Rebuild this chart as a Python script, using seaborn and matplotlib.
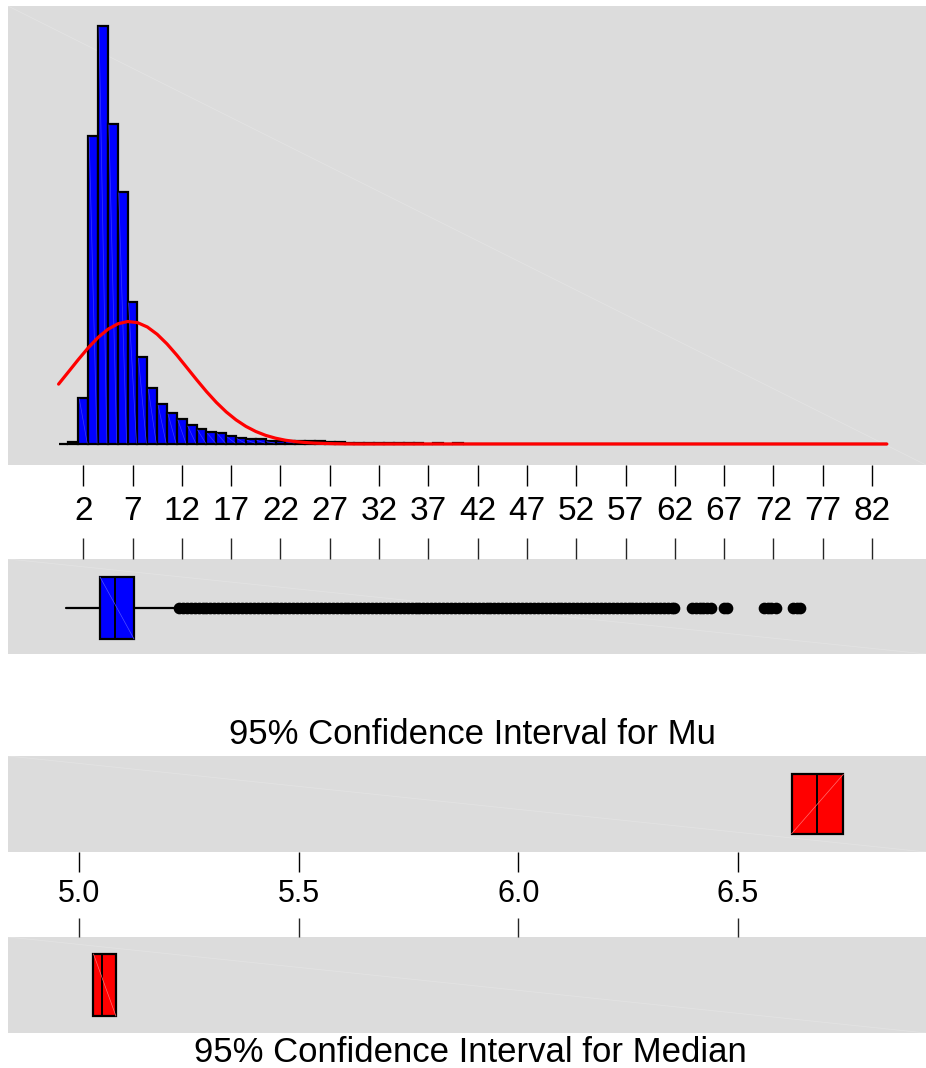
import numpy as np
import pandas as pd
import matplotlib
matplotlib.use("Agg")
import matplotlib.pyplot as plt
import seaborn as sns

# ---- data ----
# histogram: unit bins centred on 0..83
bin_centers = list(range(84))
counts = [5, 45, 950, 6350, 8620, 6600, 5200, 2930, 1790, 1150,
          820, 640, 515, 390, 310, 240, 235, 165, 130, 97,
          95, 68, 56, 68, 56, 55, 54, 34, 31, 30,
          28, 30, 27, 29, 26, 28, 25, 0, 30, 0,
          30] + [0] * 43

# fitted normal curve (heights read at these x)
curve_x = [-0.5, 0.5, 1.5, 2.5, 3.5, 4.5, 5.5, 6.5, 7.5, 8.5, 9.5, 10.5,
           11.5, 12.5, 13.5, 14.5, 15.5, 16.5, 17.5, 18.5, 19.5, 20.5,
           21.5, 22.5, 23.5, 24.5, 25.5, 26.5, 27.5, 28.5, 30.0, 83.5]
curve_y = [1235, 1487, 1741, 1982, 2196, 2365, 2478, 2526, 2503, 2413,
           2262, 2063, 1830, 1578, 1325, 1081, 858, 662, 497, 363, 258,
           178, 120, 78, 50, 31, 18, 11, 6, 3, 1, 0]

# boxplot summary
box_q1, box_med, box_q3 = 3.7, 5.2, 7.15
box_lo, box_hi = 0.25, 11.3
fliers = [11.7, 12.1, 12.5, 12.9, 13.3, 13.7, 14.1, 14.5, 14.9, 15.3,
          15.7, 16.1, 16.5, 16.9, 17.3, 17.7, 18.1, 18.5, 18.9, 19.3,
          19.7, 20.1, 20.5, 20.9, 21.3, 21.7, 22.1, 22.5, 22.9, 23.3,
          23.7, 24.1, 24.5, 24.9, 25.3, 25.7, 26.1, 26.5, 26.9, 27.3,
          27.7, 28.1, 28.5, 28.9, 29.3, 29.7, 30.1, 30.5, 30.9, 31.3,
          31.7, 32.1, 32.5, 32.9, 33.3, 33.7, 34.1, 34.5, 34.9, 35.3,
          35.7, 36.1, 36.5, 36.9, 37.3, 37.7, 38.1, 38.5, 38.9, 39.3,
          39.7, 40.1, 40.5, 40.9, 41.3, 41.7, 42.1, 42.5, 42.9, 43.3,
          43.7, 44.1, 44.5, 44.9, 45.3, 45.7, 46.1, 46.5, 46.9, 47.3,
          47.7, 48.1, 48.5, 48.9, 49.3, 49.7, 50.1, 50.5, 50.9, 51.3,
          51.7, 52.1, 52.5, 52.9, 53.3, 53.7, 54.1, 54.5, 54.9, 55.3,
          55.7, 56.1, 56.5, 56.9, 57.3, 57.7, 58.1, 58.5, 58.9, 59.3,
          59.7, 60.1, 60.5, 60.9, 61.3, 61.7, 61.9,
          63.7, 64.1, 64.5, 64.9, 65.3, 65.7, 67.0, 67.3,
          71.0, 71.4, 71.8, 72.3, 74.0, 74.4, 74.7]

# confidence intervals (low, centre, high)
mu_ci = [6.622, 6.680, 6.740]
median_ci = [5.033, 5.053, 5.084]

hist_ticks = [2, 7, 12, 17, 22, 27, 32, 37, 42, 47, 52, 57, 62, 67, 72, 77, 82]
ci_ticks = [5.0, 5.5, 6.0, 6.5]
ci_labels = ["5.0", "5.5", "6.0", "6.5"]

# ---- figure ----
sns.set_theme(style="white")
plt.rcParams['font.family'] = ['Liberation Sans', 'DejaVu Sans']
plt.rcParams['text.color'] = 'black'

W, H = 926, 1068
fig = plt.figure(figsize=(W / 100, H / 100), dpi=100)
fig.patch.set_facecolor("white")

PANEL = "#dcdcdc"


def px_axes(x0, y0, x1, y1):
    ax = fig.add_axes([x0 / W, 1 - y1 / H, (x1 - x0) / W, (y1 - y0) / H])
    ax.set_facecolor(PANEL)
    for s in ax.spines.values():
        s.set_visible(False)
    # faint diagonal artefact across the panel
    ax.plot([0, 1], [1, 0], transform=ax.transAxes, color="#e3e3e3", lw=0.6, zorder=0.5)
    return ax


ax_hist = px_axes(8, 6, 926, 465)
ax_box = px_axes(8, 559, 926, 654)
ax_mu = px_axes(8, 756, 926, 852)
ax_med = px_axes(8, 937, 926, 1033)

# histogram
hist_df = pd.DataFrame({"value": bin_centers, "count": counts})
bin_edges = [c - 0.5 for c in bin_centers] + [bin_centers[-1] + 0.5]
sns.histplot(data=hist_df, x="value", weights="count", bins=bin_edges,
             color="#0000ff", edgecolor="black", linewidth=1.6, alpha=1,
             ax=ax_hist, zorder=2)
for p in list(ax_hist.patches):
    x0, y0 = p.get_x(), p.get_y()
    w, h = p.get_width(), p.get_height()
    if h > 60:
        ax_hist.plot([x0 + 0.1, x0 + w - 0.1], [y0 + h - 20, y0 + 20],
                     color="#3a3aff", lw=0.5, zorder=2.5)
sns.lineplot(x=curve_x, y=curve_y, color="#ff0000", linewidth=2.3, ax=ax_hist, zorder=3)
ax_hist.set_xlim(-5.63, 87.47)
ax_hist.set_ylim(-433, 9032)
ax_hist.set_xticks(hist_ticks)
ax_hist.set_xticklabels([str(t) for t in hist_ticks])
ax_hist.set_yticks([])
ax_hist.set_xlabel("")
ax_hist.set_ylabel("")
ax_hist.tick_params(axis="x", direction="out", length=15, width=1, pad=7,
                    labelsize=24, colors="black", bottom=True)


def draw_box(ax, q1, med, q3, lo, hi, fl, color, width, pos, diag_up, light):
    ax.bxp([dict(q1=q1, med=med, q3=q3, whislo=lo, whishi=hi, fliers=fl)],
           positions=[pos], widths=width, orientation="horizontal",
           patch_artist=True, showcaps=False, manage_ticks=False,
           boxprops=dict(facecolor=color, edgecolor="black", linewidth=1.6),
           medianprops=dict(color="black", linewidth=1.4),
           whiskerprops=dict(color="black", linewidth=1.6),
           flierprops=dict(marker="o", markerfacecolor="black",
                           markeredgecolor="black", markersize=7.4))
    top, bot = pos + width / 2, pos - width / 2
    ys = [bot, top] if diag_up else [top, bot]
    ax.plot([q1, q3], ys, color=light, lw=0.5, zorder=5)


# boxplot under the histogram
draw_box(ax_box, box_q1, box_med, box_q3, box_lo, box_hi, fliers,
         "#0000ff", 0.653, -0.016, False, "#5050ff")
ax_box.set_xlim(-5.63, 87.47)
ax_box.set_ylim(-0.5, 0.5)
ax_box.set_yticks([])
ax_box.xaxis.tick_top()
ax_box.set_xticks(hist_ticks)
ax_box.tick_params(axis="x", direction="out", length=15, width=1,
                   top=True, bottom=False, labeltop=False, labelbottom=False)

# confidence interval panels
draw_box(ax_mu, mu_ci[0], mu_ci[1], mu_ci[2], mu_ci[0], mu_ci[2], [],
         "#ff0000", 0.62, 0.0, True, "#ff7070")
draw_box(ax_med, median_ci[0], median_ci[1], median_ci[2], median_ci[0], median_ci[2], [],
         "#ff0000", 0.647, 0.0, False, "#ff7070")

for ax in (ax_mu, ax_med):
    ax.set_xlim(4.8384, 6.928)
    ax.set_ylim(-0.5, 0.5)
    ax.set_yticks([])
    ax.set_xticks(ci_ticks)

ax_mu.set_xticklabels(ci_labels)
ax_mu.tick_params(axis="x", direction="out", length=14.4, width=1, pad=5,
                  labelsize=22, colors="black", bottom=True)
ax_med.xaxis.tick_top()
ax_med.tick_params(axis="x", direction="out", length=14, width=1,
                   top=True, bottom=False, labeltop=False, labelbottom=False)

fig.text(472 / W, 1 - 734 / H, "95% Confidence Interval for Mu",
         ha="center", va="center", fontsize=25, color="black")
fig.text(470 / W, 1 - 1052 / H, "95% Confidence Interval for Median",
         ha="center", va="center", fontsize=25, color="black")

fig.savefig("out.png", dpi=100, facecolor="white")
